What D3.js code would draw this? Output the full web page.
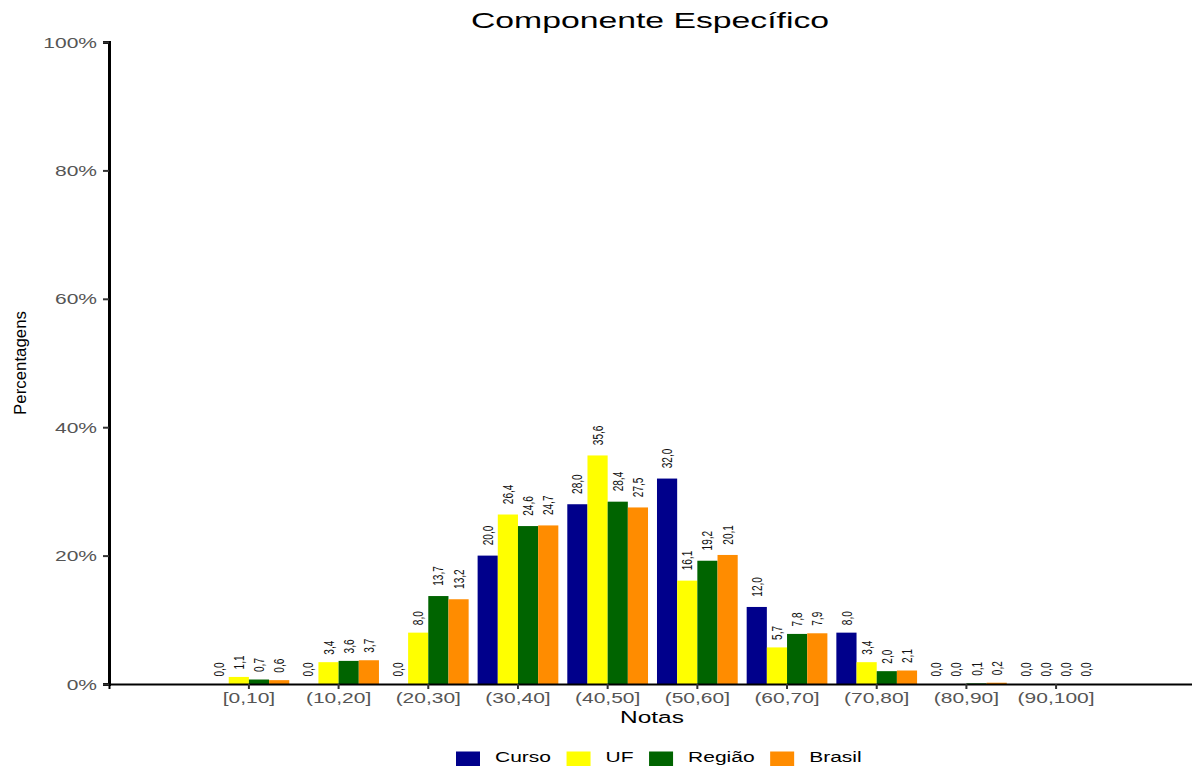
<!DOCTYPE html>
<html>
<head>
<meta charset="utf-8">
<script src="https://cdn.jsdelivr.net/npm/d3@7"></script>
<style>
  html, body { margin: 0; padding: 0; background: #fff; }
  svg { display: block; }
  text { font-family: "Liberation Sans", Arial, Helvetica, sans-serif; }
</style>
</head>
<body>
<svg id="chart" width="1192" height="766"></svg>
<script>
// ---- data ----
const categories = ["[0,10]", "(10,20]", "(20,30]", "(30,40]", "(40,50]", "(50,60]", "(60,70]", "(70,80]", "(80,90]", "(90,100]"];
const seriesNames = ["Curso", "UF", "Região", "Brasil"];
const curso  = [0.0, 0.0, 0.0, 20.0, 28.0, 32.0, 12.0, 8.0, 0.0, 0.0];
const uf     = [1.1, 3.4, 8.0, 26.4, 35.6, 16.1, 5.7, 3.4, 0.0, 0.0];
const regiao = [0.7, 3.6, 13.7, 24.6, 28.4, 19.2, 7.8, 2.0, 0.1, 0.0];
const brasil = [0.6, 3.7, 13.2, 24.7, 27.5, 20.1, 7.9, 2.1, 0.2, 0.0];
const yTicks = [0, 20, 40, 60, 80, 100];
const colors = ["#00008B", "#FFFF00", "#006400", "#FF8C00"];

const seriesValues = [curso, uf, regiao, brasil];
const rows = [];
categories.forEach((c, i) => {
  seriesNames.forEach((s, j) => rows.push({ cat: c, series: s, value: seriesValues[j][i] }));
});

const svg = d3.select("#chart");
const SX = 1.5; // horizontal text stretch

const x = d3.scaleBand().domain(categories).range([109, 1196]).paddingInner(0).paddingOuter(1.06);
const xInner = d3.scaleBand().domain(seriesNames).range([0, x.bandwidth() * 0.9]).padding(0);
const y = d3.scaleLinear().domain([0, 100]).range([684, 42]);
const color = d3.scaleOrdinal().domain(seriesNames).range(colors);
const fmt = v => d3.format(".1f")(v).replace(".", ",");

// bars
const groupOffset = x.bandwidth() * 0.05;
svg.append("g").selectAll("rect").data(rows).join("rect")
  .attr("x", d => x(d.cat) + groupOffset + xInner(d.series))
  .attr("y", d => y(d.value))
  .attr("width", xInner.bandwidth())
  .attr("height", d => y(0) - y(d.value))
  .attr("fill", d => color(d.series));

// value labels
const LS = 0.72;
const lab = svg.append("g").selectAll("text").data(rows).join("text")
  .attr("font-size", 14)
  .attr("fill", "#111")
  .attr("text-anchor", "start")
  .attr("dy", "0.36em")
  .text(d => fmt(d.value));
lab.each(function(d) {
  const len = this.getComputedTextLength() * LS;
  const cx = x(d.cat) + groupOffset + xInner(d.series) + xInner.bandwidth() / 2;
  const cy = y(d.value) - len * 0.5 - 0.5;
  d3.select(this).attr("transform", `translate(${cx},${cy}) rotate(-90) scale(${LS},1)`);
});

// x axis
const xAxis = svg.append("g").attr("transform", "translate(0,684)")
  .call(d3.axisBottom(x).tickSizeOuter(0).tickSize(5).tickPadding(0));
xAxis.select(".domain").attr("stroke", "#000").attr("stroke-width", 2);
xAxis.selectAll(".tick line").attr("stroke", "#333").attr("stroke-width", 2);
xAxis.selectAll(".tick text").remove();
xAxis.selectAll(".tick").append("text")
  .attr("transform", `translate(0,19) scale(${SX},1)`)
  .attr("text-anchor", "middle")
  .attr("font-size", 14)
  .attr("fill", "#555")
  .text(d => d);

// y axis
const yAxis = svg.append("g").attr("transform", "translate(109,0)")
  .call(d3.axisLeft(y).tickValues(yTicks).tickSizeOuter(0).tickSize(6));
yAxis.select(".domain").attr("stroke", "#000").attr("stroke-width", 3);
yAxis.selectAll(".tick line").attr("stroke", "#333").attr("stroke-width", 2);
yAxis.selectAll(".tick text").remove();
yAxis.selectAll(".tick").append("text")
  .attr("transform", `translate(-12,5) scale(${SX},1)`)
  .attr("text-anchor", "end")
  .attr("font-size", 14)
  .attr("fill", "#555")
  .text(d => d + "%");

// title
svg.append("text")
  .attr("transform", `translate(650,28) scale(${SX},1)`)
  .attr("text-anchor", "middle")
  .attr("font-size", 22.5)
  .attr("fill", "#000")
  .text("Componente Específico");

// x title
svg.append("text")
  .attr("transform", `translate(652,723) scale(${SX},1)`)
  .attr("text-anchor", "middle")
  .attr("font-size", 16.3)
  .attr("fill", "#000")
  .text("Notas");

// y title
svg.append("text")
  .attr("transform", `translate(26,363) rotate(-90) scale(1.02,1)`)
  .attr("text-anchor", "middle")
  .attr("font-size", 16.5)
  .attr("fill", "#000")
  .text("Percentagens");

// legend
const legend = svg.append("g");
let lx = 456;
seriesNames.forEach((s, i) => {
  legend.append("rect")
    .attr("x", lx).attr("y", 751.5)
    .attr("width", 24).attr("height", 17)
    .attr("fill", color(s));
  const t = legend.append("text")
    .attr("transform", `translate(${lx + 39},762) scale(1.45,1)`)
    .attr("font-size", 14.5)
    .attr("fill", "#000")
    .text(s);
  const w = t.node().getComputedTextLength() * 1.45;
  lx = lx + 39 + w + 15.5;
});
</script>
</body>
</html>
